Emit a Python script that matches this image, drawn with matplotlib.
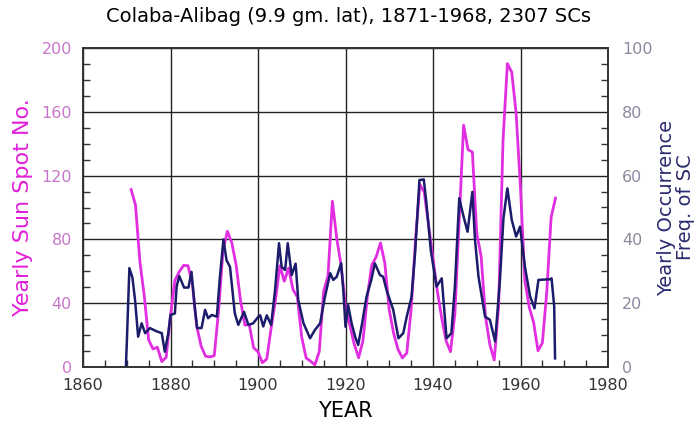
import numpy as np
import matplotlib.pyplot as plt
from matplotlib.ticker import MultipleLocator

# Yearly sunspot number (magenta, left axis)
ssn_years = list(range(1871, 1969))
ssn = [111.2, 101.6, 66.2, 44.7, 17.0, 11.3, 12.4, 3.4, 6.0, 32.3,
       54.3, 59.7, 63.7, 63.5, 52.2, 25.4, 13.1, 6.8, 6.3, 7.1,
       35.6, 73.0, 85.1, 78.0, 64.0, 41.8, 26.2, 26.7, 12.1, 9.5,
       2.7, 5.0, 24.4, 42.0, 63.5, 53.8, 62.0, 48.5, 43.9, 18.6,
       5.7, 3.6, 1.4, 9.6, 47.4, 57.1, 103.9, 80.6, 63.6, 37.6,
       26.1, 14.2, 5.8, 16.7, 44.3, 63.9, 69.0, 77.8, 64.9, 35.7,
       21.2, 11.1, 5.7, 8.7, 36.1, 79.7, 114.4, 109.6, 88.8, 67.8,
       47.5, 30.6, 16.3, 9.6, 33.2, 92.6, 151.6, 136.3, 134.7, 83.9,
       69.4, 31.5, 13.9, 4.4, 38.0, 141.7, 190.2, 184.8, 159.0, 112.3,
       53.9, 37.5, 27.9, 10.2, 15.1, 47.0, 93.8, 105.9]

# Yearly occurrence frequency of SC (navy, right axis)
sc_years = [1869.8, 1870.0, 1870.6, 1871.3, 1871.9, 1872.6, 1873.4, 1874.2, 1875.3,
            1876.8, 1878.0, 1878.7, 1879.5, 1880.0, 1881.0, 1881.4, 1882.0, 1883.1,
            1884.1, 1884.8, 1885.6, 1886.1, 1887.1, 1887.9, 1888.6, 1889.4, 1890.6,
            1891.3, 1892.1, 1892.8, 1893.6, 1894.7, 1895.5, 1896.8, 1897.8, 1898.9,
            1900.1, 1900.5, 1901.2, 1902.0, 1903.0, 1903.9, 1904.8, 1905.4, 1906.2,
            1906.8, 1907.7, 1908.6, 1909.2, 1910.4, 1911.9, 1913.0, 1914.2, 1915.3,
            1916.5, 1917.2, 1918.0, 1919.0, 1919.5, 1920.0, 1920.6, 1921.4, 1922.2,
            1922.9, 1923.8, 1924.8, 1925.9, 1926.7, 1927.9, 1928.6, 1929.4, 1930.9,
            1932.1, 1933.2, 1934.0, 1935.1, 1935.9, 1936.9, 1937.9, 1938.5, 1939.5,
            1940.8, 1942.0, 1943.1, 1944.2, 1945.0, 1946.0, 1946.9, 1947.9, 1949.0,
            1949.6, 1950.4, 1951.9, 1953.0, 1954.2, 1955.3, 1956.1, 1957.0, 1958.0,
            1959.0, 1959.9, 1961.0, 1962.2, 1963.2, 1964.1, 1966.7, 1967.1, 1967.7,
            1967.9]
sc_freq = [0, 7, 31, 28, 21, 9.5, 13.7, 10.6, 12.2,
           11.2, 10.6, 4.8, 10.6, 16.3, 16.8, 25.2, 28.5, 24.9,
           24.9, 29.8, 17.9, 12.2, 12.2, 17.9, 15.3, 16.3, 15.8,
           28.3, 40, 33.5, 31.4, 16.8, 13.2, 17.3, 13.2, 13.7,
           15.8, 16.2, 12.7, 16.2, 13.2, 24.1, 38.8, 31.4, 30.4,
           38.8, 28.8, 32.4, 21, 13.7, 9.0, 11.6, 13.7, 22,
           29.4, 27.3, 28.3, 32.5, 24.1, 12.6, 19.4, 13.7, 9.5,
           6.9, 13.7, 22, 27.3, 32.5, 28.8, 28.3, 24, 18,
           9, 10.6, 15.8, 22, 35.6, 58.6, 58.8, 51.3, 36.6,
           25.2, 27.8, 9, 10.6, 25.2, 52.9, 47.6, 42.4, 54.9,
           39.8, 28.3, 15.8, 14.8, 8, 27.3, 46.6, 56, 46.1,
           40.9, 44, 31.5, 22.1, 18.4, 27.3, 27.5, 27.8, 19,
           2.7]

fig = plt.figure(figsize=(6.97, 4.41), dpi=100)
ax = fig.add_axes([83 / 697, 1 - 367 / 441, 525 / 697, 319 / 441])

ax.plot(ssn_years, ssn, color="#e02ee0", lw=2)
ax.set_xlim(1860, 1980)
ax.set_ylim(0, 200)
ax.xaxis.set_major_locator(MultipleLocator(20))
ax.xaxis.set_minor_locator(MultipleLocator(5))
ax.yaxis.set_major_locator(MultipleLocator(40))
ax.yaxis.set_minor_locator(MultipleLocator(10))
ax.grid(True, which="major", color="#222222", lw=1)
ax.tick_params(axis="both", which="both", direction="in")
ax.tick_params(axis="both", which="major", length=0, labelsize=11.5, pad=8)
ax.tick_params(axis="both", which="minor", length=5, width=1, color="#333333")
ax.tick_params(axis="x", colors="#333333", labelcolor="#333333")
ax.tick_params(axis="y", labelcolor="#c878c8")
for s in ax.spines.values():
    s.set_color("#333333")
    s.set_linewidth(1.2)

ax.set_ylabel("Yearly Sun Spot No.", color="#e020d8", fontsize=16, labelpad=6)
ax.set_xlabel("YEAR", fontsize=15, labelpad=6)
fig.suptitle("Colaba-Alibag (9.9 gm. lat), 1871-1968, 2307 SCs",
             fontsize=14, x=0.5, y=0.985)

ax2 = ax.twinx()
ax2.plot(sc_years, sc_freq, color="#1c1c6c", lw=1.8)
ax2.set_ylim(0, 100)
ax2.yaxis.set_major_locator(MultipleLocator(20))
ax2.yaxis.set_minor_locator(MultipleLocator(5))
ax2.tick_params(axis="y", which="both", direction="in")
ax2.tick_params(axis="y", which="major", length=0, labelsize=11.5, pad=10,
                labelcolor="#8a8aa0")
ax2.tick_params(axis="y", which="minor", length=5, width=1, color="#333333")
for s in ax2.spines.values():
    s.set_color("#333333")
    s.set_linewidth(1.2)
ax2.set_ylabel("Yearly Occurrence\nFreq. of SC", color="#2a2a70", fontsize=14,
               labelpad=3, linespacing=1.0)

fig.savefig("out.png", dpi=100)
